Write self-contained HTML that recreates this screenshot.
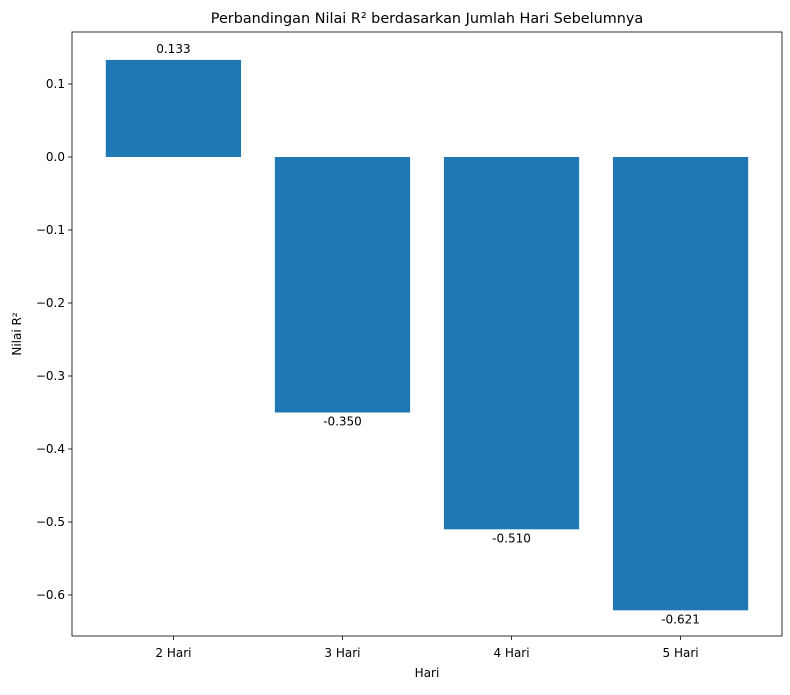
<!DOCTYPE html>
<html><head><meta charset="utf-8"><style>
body{margin:0;background:#fff;font-family:"Liberation Sans","DejaVu Sans",sans-serif;}
</style></head><body>
<svg width="790" height="690" xmlns="http://www.w3.org/2000/svg" font-family="DejaVu Sans, Liberation Sans, sans-serif">
<g id="plot"></g>
</svg>
<script>
const categories=["2 Hari","3 Hari","4 Hari","5 Hari"];
const values=[0.133,-0.350,-0.510,-0.621];
const valueLabels=["0.133","-0.350","-0.510","-0.621"];
const yTicks=[0.1,0.0,-0.1,-0.2,-0.3,-0.4,-0.5,-0.6];
const yTickLabels=["0.1","0.0","\u22120.1","\u22120.2","\u22120.3","\u22120.4","\u22120.5","\u22120.6"];
const L=72,R=782,T=32,B=636;
const y=v=>157-v*730;
const unit=(R-L)/4.2;
const x=i=>L+(i+0.6)*unit;
const ns="http://www.w3.org/2000/svg";
const g=document.getElementById('plot');
function mk(t,a,txt){const e=document.createElementNS(ns,t);for(const k in a)e.setAttribute(k,a[k]);if(txt!==undefined)e.textContent=txt;g.appendChild(e);return e;}
const t=mk('text',{x:(L+R)/2,y:23,'text-anchor':'middle','font-size':14.4},"Perbandingan Nilai R² berdasarkan Jumlah Hari Sebelumnya");


values.forEach((v,i)=>{
 const bw=unit*0.8;
 const r=mk('rect',{x:x(i)-bw/2,y:Math.min(y(v),y(0)),width:bw,height:Math.abs(y(v)-y(0)),fill:'#1f77b4'});
 
 
 const ly=v>=0?y(v)-7:y(v)+13;
 const l=mk('text',{x:x(i),y:ly,'text-anchor':'middle','font-size':12},valueLabels[i]);
 
 
 const tk=mk('line',{x1:x(i),x2:x(i),y1:B,y2:B+4,stroke:'#000','stroke-width':0.8});
 
 
 const tl=mk('text',{x:x(i),y:B+21,'text-anchor':'middle','font-size':12},categories[i]);
 
 
});
yTicks.forEach((v,i)=>{
 const tk=mk('line',{x1:L-4,x2:L,y1:y(v),y2:y(v),stroke:'#000','stroke-width':0.8});
 
 
 const tl=mk('text',{x:L-7,y:y(v)+4,'text-anchor':'end','font-size':12},yTickLabels[i]);
 
 
});
const f=mk('rect',{x:L,y:T,width:R-L,height:B-T,fill:'none',stroke:'#000','stroke-width':0.8});


const xt=mk('text',{x:(L+R)/2,y:677,'text-anchor':'middle','font-size':12},"Hari");


const yt=mk('text',{x:21,y:(T+B)/2,'text-anchor':'middle','font-size':12,transform:`rotate(-90 21 ${(T+B)/2})`},"Nilai R²");


</script>
</body></html>
